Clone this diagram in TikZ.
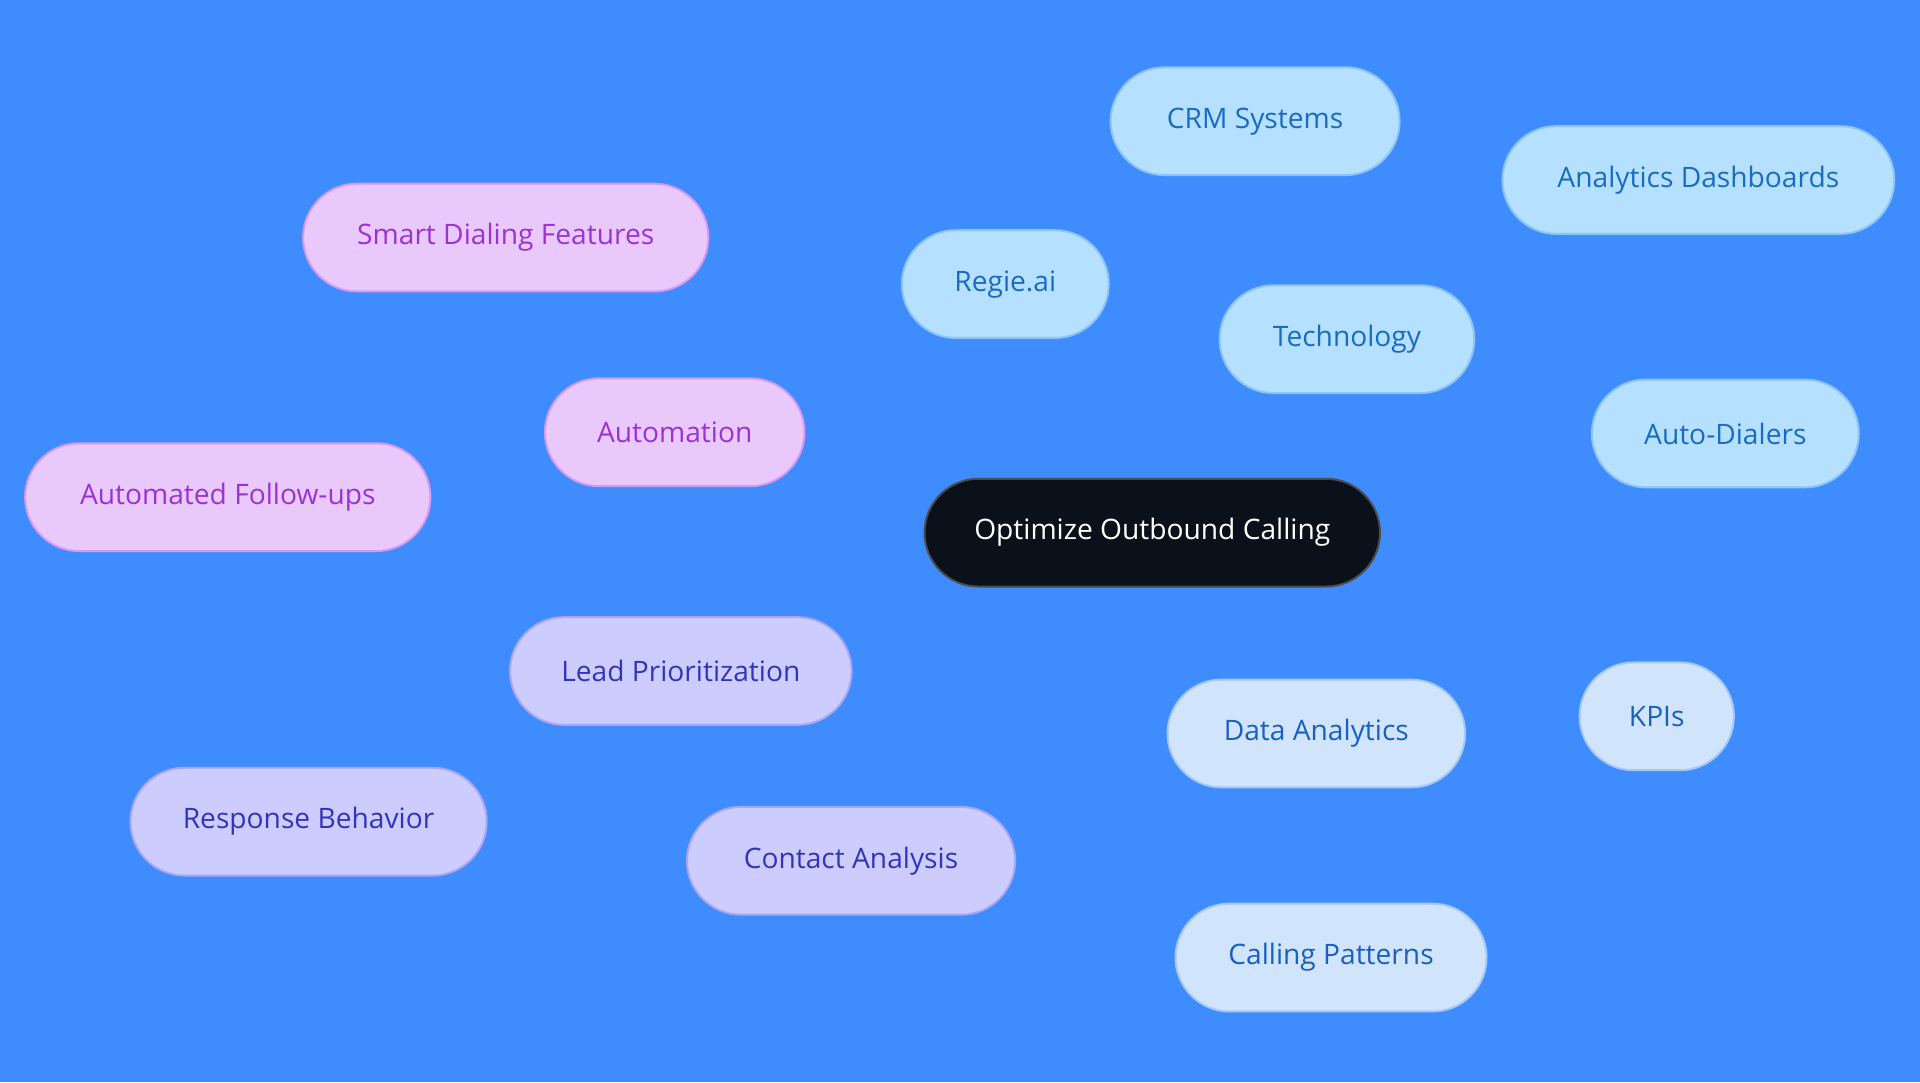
\documentclass[tikz,border=0pt]{standalone}
\usepackage{fontspec}
\setmainfont{Open Sans}
\usetikzlibrary{backgrounds}
\definecolor{bg}{HTML}{3F8CFF}
\definecolor{rootc}{HTML}{0B111B}
\definecolor{techf}{HTML}{B5E0FF}\definecolor{techd}{HTML}{8CC4F2}\definecolor{techt}{HTML}{1A6CC0}
\definecolor{autof}{HTML}{E9C9FC}\definecolor{autod}{HTML}{D49AF0}\definecolor{autot}{HTML}{9B32D6}
\definecolor{leadf}{HTML}{CCCCFF}\definecolor{leadd}{HTML}{A8A6F0}\definecolor{leadt}{HTML}{3434B8}
\definecolor{dataf}{HTML}{D0E4FB}\definecolor{datad}{HTML}{A6C8F2}\definecolor{datat}{HTML}{1A60C0}
\begin{document}
\begin{tikzpicture}[x=0.5pt,y=-0.5pt,
 pill/.style={rounded corners=22pt,minimum height=44pt,inner sep=0pt,line width=0.8pt,font=\fontsize{11.5}{12}\selectfont},
 root/.style={pill,fill=rootc,draw=black!70,text=white},
 tech/.style={pill,fill=techf,draw=techd,text=techt},
 auto/.style={pill,fill=autof,draw=autod,text=autot},
 lead/.style={pill,fill=leadf,draw=leadd,text=leadt},
 data/.style={pill,fill=dataf,draw=datad,text=datat},
 e/.style={line width=1.5pt}]
\fill[bg] (0,0) rectangle (1568,884);
\node[root,minimum width=186pt] (r) at (941,435) {Optimize Outbound Calling};
\node[tech,minimum width=104pt] (t) at (1100,277) {Technology};
\node[tech,minimum width=118pt] (crm) at (1025,99) {CRM Systems};
\node[tech,minimum width=160pt] (ad) at (1387,147) {Analytics Dashboards};
\node[tech,minimum width=84.5pt] (rg) at (821,232) {Regie.ai};
\node[tech,minimum width=109pt] (adl) at (1409,354) {Auto-Dialers};
\node[auto,minimum width=106pt] (a) at (551,353) {Automation};
\node[auto,minimum width=165.5pt] (sd) at (413,194) {Smart Dialing Features};
\node[auto,minimum width=165.5pt] (af) at (186,406) {Automated Follow-ups};
\node[lead,minimum width=139.5pt] (l) at (556,548) {Lead Prioritization};
\node[lead,minimum width=145.5pt] (rb) at (252,671) {Response Behavior};
\node[lead,minimum width=134pt] (ca) at (695,703) {Contact Analysis};
\node[data,minimum width=121.5pt] (d) at (1075,599) {Data Analytics};
\node[data,minimum width=63pt] (k) at (1353,585) {KPIs};
\node[data,minimum width=127pt] (cp) at (1087,782) {Calling Patterns};
\begin{scope}[on background layer]
\fill[bg] (0,0) rectangle (1568,884);
\draw[e,techd] (r) -- (t) (t) -- (crm) (t) -- (ad) (t) -- (rg) (t) -- (adl);
\draw[e,autod] (r) -- (a) (a) -- (sd) (a) -- (af);
\draw[e,leadd] (r) -- (l) (l) -- (rb) (l) -- (ca);
\draw[e,datad] (r) -- (d) (d) -- (k) (d) -- (cp);
\end{scope}
\end{tikzpicture}
\end{document}
